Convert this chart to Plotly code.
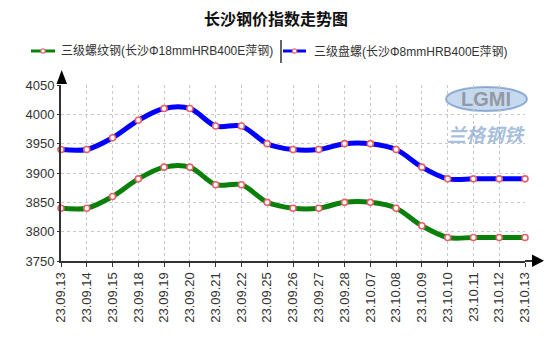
import plotly.graph_objects as go

dates = ["23.09.13", "23.09.14", "23.09.15", "23.09.18", "23.09.19", "23.09.20",
         "23.09.21", "23.09.22", "23.09.25", "23.09.26", "23.09.27", "23.09.28",
         "23.10.07", "23.10.08", "23.10.09", "23.10.10", "23.10.11", "23.10.12", "23.10.13"]
rebar = [3840, 3840, 3860, 3890, 3910, 3910, 3880, 3880, 3850, 3840, 3840, 3850,
         3850, 3840, 3810, 3790, 3790, 3790, 3790]
coil = [3940, 3940, 3960, 3990, 4010, 4010, 3980, 3980, 3950, 3940, 3940, 3950,
        3950, 3940, 3910, 3890, 3890, 3890, 3890]
name_rebar = "三级螺纹钢(长沙Φ18mmHRB400E萍钢)"
name_coil = "三级盘螺(长沙Φ8mmHRB400E萍钢)"
y_ticks = [3750, 3800, 3850, 3900, 3950, 4000, 4050]
title = "长沙钢价指数走势图"

W, H = 553, 343
L, R, T, B = 61, 28, 85, 82
PW, PH = W - L - R, H - T - B

FONT = "Liberation Sans, Arial, Noto Sans CJK SC, sans-serif"
GREEN = "#0a800a"
BLUE = "#0000ff"
MK = dict(size=6, color="white", line=dict(color="#e8606a", width=1.6))


def px(x):
    return (x - L) / PW


def py(y):
    return (H - B - y) / PH


fig = go.Figure()
fig.add_trace(go.Scatter(x=dates, y=coil, mode="lines+markers", name=name_coil,
                         line=dict(color=BLUE, width=5, shape="spline", smoothing=0.9),
                         marker=MK, cliponaxis=False))
fig.add_trace(go.Scatter(x=dates, y=rebar, mode="lines+markers", name=name_rebar,
                         line=dict(color=GREEN, width=5, shape="spline", smoothing=0.9),
                         marker=MK, cliponaxis=False))

axis_col = "#333333"
grid = dict(showgrid=True, gridcolor="#c8c8c8", gridwidth=1, griddash="dot")
fig.update_xaxes(type="category", range=[0, len(dates) - 1], tickangle=-90,
                 showline=True, linecolor=axis_col, linewidth=2,
                 ticks="outside", ticklen=4, tickcolor=axis_col, tickwidth=1,
                 tickfont=dict(family=FONT, size=13, color="#333"), zeroline=False,
                 **grid)
fig.update_yaxes(range=[3750, 4050], tickvals=y_ticks,
                 showline=True, linecolor=axis_col, linewidth=2,
                 ticks="outside", ticklen=2, tickcolor=axis_col,
                 tickfont=dict(family=FONT, size=13, color="#333"), zeroline=False,
                 **grid)

shapes = []
# axis arrows
shapes.append(dict(type="path", xref="paper", yref="paper",
                   path=f"M {px(56.5)} {py(84)} L {px(67)} {py(84)} L {px(61.7)} {py(70)} Z",
                   fillcolor="black", line=dict(width=0)))
shapes.append(dict(type="line", xref="paper", yref="paper",
                   x0=px(525), x1=px(533), y0=0, y1=0, line=dict(color=axis_col, width=2)))
shapes.append(dict(type="path", xref="paper", yref="paper",
                   path=f"M {px(532)} {py(254.5)} L {px(532)} {py(267)} L {px(544)} {py(260.7)} Z",
                   fillcolor="black", line=dict(width=0)))
# legend symbols
ly = 51
shapes.append(dict(type="line", xref="paper", yref="paper", x0=px(31), x1=px(55),
                   y0=py(ly), y1=py(ly), line=dict(color=GREEN, width=3)))
shapes.append(dict(type="line", xref="paper", yref="paper", x0=px(283), x1=px(306),
                   y0=py(ly), y1=py(ly), line=dict(color=BLUE, width=3)))
shapes.append(dict(type="line", xref="paper", yref="paper", x0=px(281), x1=px(281),
                   y0=py(40), y1=py(63), line=dict(color="#333", width=1.5)))
for cx in (43, 294.5):
    shapes.append(dict(type="circle", xref="paper", yref="paper",
                       x0=px(cx - 2.2), x1=px(cx + 2.2), y0=py(ly + 2.2), y1=py(ly - 2.2),
                       fillcolor="white", line=dict(color="#e8606a", width=1.2)))
# watermark ellipse
shapes.append(dict(type="circle", xref="paper", yref="paper",
                   x0=px(446), x1=px(527), y0=py(111), y1=py(87),
                   fillcolor="rgba(150,185,225,0.55)", line=dict(color="rgba(90,130,190,0.6)", width=2),
                   layer="below"))

annotations = [
    dict(text=f"<b>{title}</b>", x=px(276), y=py(19), xref="paper", yref="paper",
         showarrow=False, xanchor="center", yanchor="middle",
         font=dict(family=FONT, size=16, color="#111")),
    dict(text=name_rebar, x=px(59), y=py(ly), xref="paper", yref="paper", showarrow=False,
         xanchor="left", yanchor="middle", font=dict(family=FONT, size=12, color="#333")),
    dict(text=name_coil, x=px(312), y=py(ly), xref="paper", yref="paper", showarrow=False,
         xanchor="left", yanchor="middle", font=dict(family=FONT, size=12, color="#333")),
    dict(text="<b>LGMI</b>", x=px(486), y=py(99), xref="paper", yref="paper", showarrow=False,
         xanchor="center", yanchor="middle",
         font=dict(family=FONT, size=20, color="rgba(140,140,150,0.85)")),
    dict(text="<b><i>兰格钢铁</i></b>", x=px(486), y=py(133), xref="paper", yref="paper",
         showarrow=False, xanchor="center", yanchor="middle",
         font=dict(family="Noto Sans CJK SC, sans-serif", size=19, color="rgba(110,150,200,0.6)")),
]

fig.update_layout(width=W, height=H, margin=dict(l=L, r=R, t=T, b=B),
                  paper_bgcolor="white", plot_bgcolor="white", showlegend=False,
                  shapes=shapes, annotations=annotations,
                  font=dict(family=FONT))
fig.write_html("out.html")
